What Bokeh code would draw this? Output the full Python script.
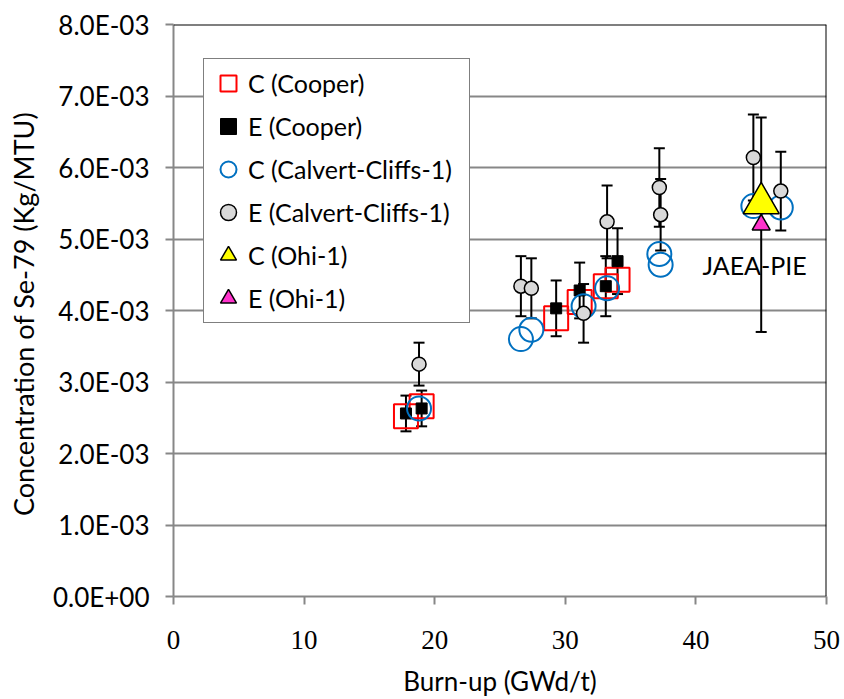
from bokeh.plotting import figure
from bokeh.models import (ColumnDataSource, Whisker, TeeHead, Range1d, FixedTicker,
                          CustomJSTickFormatter, Span, Label)
from bokeh.embed import file_html
from bokeh.resources import INLINE

# ---------------- data (burn-up GWd/t, concentration kg/MTU) ----------------
cooper_x = [17.8, 19.0, 29.3, 31.1, 33.1, 34.0]
cooper_calc = [2.52e-3, 2.66e-3, 3.89e-3, 4.12e-3, 4.34e-3, 4.43e-3]
cooper_exp = [2.56e-3, 2.63e-3, 4.03e-3, 4.28e-3, 4.34e-3, 4.69e-3]
cooper_err = [0.25e-3, 0.25e-3, 0.39e-3, 0.39e-3, 0.42e-3, 0.46e-3]

calvert_x = [18.8, 26.6, 27.4, 31.4, 33.2, 37.2, 37.3, 44.4, 46.5]
calvert_calc = [2.63e-3, 3.60e-3, 3.73e-3, 4.06e-3, 4.31e-3, 4.79e-3, 4.64e-3, 5.46e-3, 5.44e-3]
calvert_exp = [3.25e-3, 4.34e-3, 4.31e-3, 3.96e-3, 5.24e-3, 5.72e-3, 5.34e-3, 6.14e-3, 5.67e-3]
calvert_err = [0.30e-3, 0.42e-3, 0.42e-3, 0.41e-3, 0.51e-3, 0.55e-3, 0.50e-3, 0.60e-3, 0.55e-3]

ohi_x = [45.0]
ohi_calc = [5.50e-3]
ohi_exp = [5.20e-3]
ohi_err = [1.50e-3]

x_ticks = [0, 10, 20, 30, 40, 50]
y_ticks = [0, 1e-3, 2e-3, 3e-3, 4e-3, 5e-3, 6e-3, 7e-3, 8e-3]

labels = ["C (Cooper)", "E (Cooper)", "C (Calvert-Cliffs-1)",
          "E (Calvert-Cliffs-1)", "C (Ohi-1)", "E (Ohi-1)"]

SANS = "Lato"

p = figure(width=844, height=699, output_backend="svg", toolbar_location=None,
           x_range=Range1d(0, 50), y_range=Range1d(0, 8e-3),
           min_border_left=173, min_border_right=18, min_border_top=24,
           min_border_bottom=102)
p.background_fill_color = "white"
p.border_fill_color = "white"
p.outline_line_color = None

# grid
p.xgrid.grid_line_color = None
p.ygrid.grid_line_color = "#878787"
p.ygrid.grid_line_width = 2
p.ygrid.ticker = FixedTicker(ticks=y_ticks)

# axes
p.xaxis.ticker = FixedTicker(ticks=x_ticks)
p.yaxis.ticker = FixedTicker(ticks=y_ticks)
p.yaxis.formatter = CustomJSTickFormatter(code="""
const s = Number(tick).toExponential(1);
const parts = s.split('e');
const sign = parts[1][0];
let d = parts[1].slice(1);
if (d.length < 2) d = '0' + d;
return parts[0] + 'E' + sign + d;
""")
for ax in (p.xaxis[0], p.yaxis[0]):
    ax.axis_line_color = "#878787"
    ax.axis_line_width = 2
    ax.major_tick_line_color = "#878787"
    ax.major_tick_line_width = 2
    ax.major_tick_out = 8
    ax.major_tick_in = 0
    ax.minor_tick_line_color = None
    ax.major_label_text_color = "black"
    ax.axis_label_text_color = "black"
    ax.axis_label_text_font_style = "normal"

p.xaxis.major_label_text_font = "Liberation Serif"
p.xaxis.major_label_text_font_size = "27px"
p.xaxis.major_label_standoff = 26
p.xaxis.axis_label = "Burn-up (GWd/t)"
p.xaxis.axis_label_text_font = SANS
p.xaxis.axis_label_text_font_size = "26px"
p.xaxis.axis_label_standoff = 13

p.yaxis.major_label_text_font = SANS
p.yaxis.major_label_text_font_size = "26px"
p.yaxis.major_label_standoff = 16
p.yaxis.axis_label = "Concentration of Se-79  (Kg/MTU)"
p.yaxis.axis_label_text_font = SANS
p.yaxis.axis_label_text_font_size = "27px"
p.yaxis.axis_label_standoff = 10

# top / right border of plot area
p.add_layout(Span(location=8e-3, dimension="width", line_color="black", line_width=2))
p.add_layout(Span(location=50, dimension="height", line_color="black", line_width=2))

# error bars
def add_err(xs, ys, es):
    src = ColumnDataSource(dict(x=xs, lo=[y - e for y, e in zip(ys, es)],
                                hi=[y + e for y, e in zip(ys, es)]))
    w = Whisker(source=src, base="x", lower="lo", upper="hi",
                line_color="black", line_width=2,
                upper_head=TeeHead(size=11, line_color="black", line_width=2),
                lower_head=TeeHead(size=11, line_color="black", line_width=2))
    p.add_layout(w)

add_err(cooper_x, cooper_exp, cooper_err)
add_err(calvert_x, calvert_exp, calvert_err)
add_err(ohi_x, ohi_exp, ohi_err)

# markers
p.scatter(cooper_x, cooper_calc, marker="square", size=24, fill_color=None,
          line_color="#FF0000", line_width=2, legend_label=labels[0])
p.scatter(cooper_x, cooper_exp, marker="square", size=11, fill_color="black",
          line_color="black", line_width=1, legend_label=labels[1])
p.scatter(calvert_x, calvert_calc, marker="circle", size=24, fill_color=None,
          line_color="#0070C0", line_width=2, legend_label=labels[2])
p.scatter(calvert_x, calvert_exp, marker="circle", size=14, fill_color="#D9D9D9",
          line_color="black", line_width=1.5, legend_label=labels[3])
p.scatter(ohi_x, ohi_calc, marker="triangle", size=36, fill_color="#FFFF00",
          line_color="black", line_width=1.5, legend_label=labels[4])
p.scatter(ohi_x, ohi_exp, marker="triangle", size=18, fill_color="#FF33CC",
          line_color="black", line_width=1.5, legend_label=labels[5])

p.add_layout(Label(x=40.5, y=4.64e-3, text="JAEA-PIE", text_font=SANS,
                   text_font_size="25px", text_color="black",
                   text_align="left", text_baseline="middle"))

# legend
lg = p.legend[0]
lg.location = (30, 273)
lg.label_text_font = SANS
lg.label_text_font_size = "25px"
lg.label_text_color = "black"
lg.glyph_width = 40
lg.glyph_height = 40
lg.label_height = 40
lg.spacing = 3
lg.padding = 4
lg.margin = 0
lg.label_standoff = -6
lg.label_width = 217
lg.border_line_color = "black"
lg.border_line_width = 1.5
lg.background_fill_color = "white"
lg.background_fill_alpha = 1.0

open("out.html", "w").write(file_html(p, INLINE))
